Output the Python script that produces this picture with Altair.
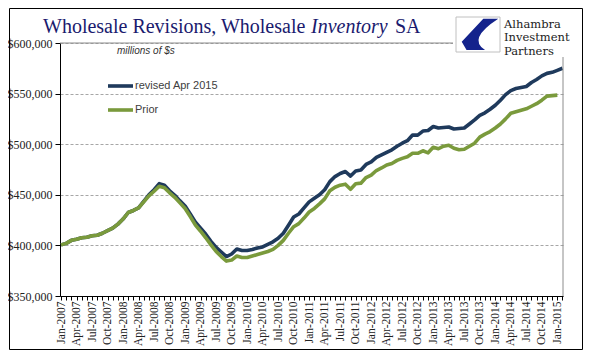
import json
import altair as alt
import pandas as pd

# ---- data (thousands of $) ----
months = [d.strftime("%b-%Y") for d in pd.date_range("2007-01-01", "2015-02-01", freq="MS")]

revised = [
    400.5, 402, 405, 406, 407.5, 408, 409.5, 410, 412, 414.5,
    417, 421, 426, 432.5, 434.5, 437, 443.5, 450, 455, 461,
    459.5, 454, 449.5, 444, 439, 431, 423, 417, 411, 404,
    398, 393.5, 389, 391.5, 396.5, 395, 395, 396, 397.5, 398.5,
    401, 403.5, 407, 412, 420, 428, 431, 437, 443, 446.5,
    450, 455, 463, 468, 471, 473, 468.5, 473.5, 474.5, 480,
    482.5, 487, 489.5, 492, 494.5, 498, 501, 503.5, 509, 509,
    513, 513.5, 517.5, 516, 516.5, 517, 515, 515.5, 516, 520,
    524, 528.5, 531, 534.5, 538.5, 543.5, 549, 553, 555, 556,
    557, 561, 564, 567.5, 570, 571, 573, 575,
]
prior = [
    400.5, 402, 405, 406, 407.5, 408, 409.5, 410, 412, 414.5,
    417, 421, 426, 432.5, 434.5, 437, 443, 449, 453.5, 458.5,
    457, 452, 447.5, 442, 436.5, 428.5, 420, 414, 407.5, 400.5,
    394, 389, 384.5, 385.5, 389.5, 388, 388, 389.5, 391, 392.5,
    394, 396, 400, 405, 412, 418.5, 421.5, 427, 433, 436.5,
    441, 446, 454, 457.5, 459.5, 460.5, 455.5, 461, 461.5, 467,
    469.5, 474, 476.5, 479.5, 481, 484, 486, 487.5, 491, 491,
    493.5, 491.5, 497, 495.5, 498, 499, 496, 494.5, 495, 498,
    501, 507, 510, 512.5, 516, 520, 525, 530.5, 532, 533.5,
    535, 537.5, 540, 543.5, 547.5, 548, 548.5,
]
series_names = ["revised Apr 2015", "Prior"]
series_colors = ["#1f3a5c", "#7a9a3c"]
tick_labels = [m if i % 3 == 0 else "" for i, m in enumerate(months)]
y_ticks = [350000, 400000, 450000, 500000, 550000, 600000]

df_rev = pd.DataFrame({"i": range(len(revised)), "v": [v * 1000 for v in revised],
                       "month": months[:len(revised)]})
df_pri = pd.DataFrame({"i": range(len(prior)), "v": [v * 1000 for v in prior],
                       "month": months[:len(prior)]})
one = pd.DataFrame({"k": [1]})

W, H = 503, 253
SERIF = "Liberation Serif"

x_enc = alt.X(
    "i:Q",
    title=None,
    scale=alt.Scale(domain=[-0.2, 97.1], nice=False, zero=False),
    axis=alt.Axis(
        values=list(range(len(months))),
        labelExpr=json.dumps(tick_labels) + "[datum.value]",
        labelAngle=270,
        labelFont=SERIF,
        labelFontSize=11.5,
        labelColor="#222222",
        labelPadding=1,
        labelOverlap=False,
        labelBound=False,
        labelFlush=False,
        tickSize=4,
        tickColor="#000000",
        domainColor="#000000",
        grid=False,
    ),
)
y_enc = alt.Y(
    "v:Q",
    title=None,
    scale=alt.Scale(domain=[350000, 600000], nice=False, zero=False),
    axis=alt.Axis(
        values=y_ticks,
        format="$,.0f",
        labelFont=SERIF,
        labelFontSize=12,
        labelColor="#222222",
        labelPadding=3,
        tickSize=5,
        tickColor="#000000",
        domainColor="#000000",
        grid=True,
        gridDash=[3, 2],
        gridColor="#a6a6a6",
    ),
)

line_rev = alt.Chart(df_rev).mark_line(color=series_colors[0], strokeWidth=3.6, strokeJoin="round").encode(
    x=x_enc, y=y_enc)
line_pri = alt.Chart(df_pri).mark_line(color=series_colors[1], strokeWidth=3.6, strokeJoin="round").encode(
    x=x_enc, y=y_enc)

# plot borders (top + right, gray)
top_border = alt.Chart(one).mark_rule(color="#8c8c8c", strokeWidth=1).encode(
    x=alt.value(0), x2=alt.value(W), y=alt.value(0))
right_border = alt.Chart(one).mark_rule(color="#8c8c8c", strokeWidth=1).encode(
    x=alt.value(W), y=alt.value(0), y2=alt.value(H))

# outer frame
frame = alt.Chart(one).mark_rect(fillOpacity=0, stroke="#000000", strokeWidth=1).encode(
    x=alt.value(-50.5), x2=alt.value(522.5), y=alt.value(-34.5), y2=alt.value(306.5))

# title pieces
TITLE_C = "#1a1a6e"
t1 = alt.Chart(one).mark_text(text="Wholesale Revisions, Wholesale", align="left", baseline="alphabetic",
                              font=SERIF, fontSize=20, color=TITLE_C).encode(
    x=alt.value(-17), y=alt.value(-10))
t2 = alt.Chart(one).mark_text(text="Inventory", align="left", baseline="alphabetic",
                              font=SERIF, fontSize=20, fontStyle="italic", color=TITLE_C).encode(
    x=alt.value(251), y=alt.value(-10))
t3 = alt.Chart(one).mark_text(text="SA", align="left", baseline="alphabetic",
                              font=SERIF, fontSize=20, color=TITLE_C).encode(
    x=alt.value(335), y=alt.value(-10))

units = alt.Chart(one).mark_text(text="millions of $s", align="left", baseline="middle",
                                 font="Liberation Sans", fontSize=10, fontStyle="italic",
                                 color="#333333").encode(x=alt.value(57), y=alt.value(8))

# logo
logo_bg = alt.Chart(one).mark_rect(fill="#ffffff").encode(
    x=alt.value(393), x2=alt.value(518), y=alt.value(-33), y2=alt.value(14))
logo_box = alt.Chart(one).mark_rect(fill="#ffffff", stroke="#c0c0c0", strokeWidth=1).encode(
    x=alt.value(396), x2=alt.value(440), y=alt.value(-26), y2=alt.value(9))
swoosh_path = "M 0.92 -0.72 L 0.24 -0.72 L -0.74 0.33 L -0.52 0.70 L 0.32 0.70 Q -0.5 0.2 0.92 -0.72 Z"
logo_mark = alt.Chart(one).mark_point(shape=swoosh_path, filled=True, fill="#14238c", opacity=1,
                                      strokeWidth=0, size=1936).encode(
    x=alt.value(418), y=alt.value(-8.5))
logo_text = alt.Chart(one).mark_text(text=["Alhambra", "Investment", "Partners"], align="left",
                                     baseline="alphabetic", font="DejaVu Serif", fontSize=11.5,
                                     lineHeight=13.5, color="#222222").encode(
    x=alt.value(444), y=alt.value(-15.5))

# legend
leg_rev = alt.Chart(one).mark_rule(color=series_colors[0], strokeWidth=3.6).encode(
    x=alt.value(48), x2=alt.value(73), y=alt.value(43))
leg_pri = alt.Chart(one).mark_rule(color=series_colors[1], strokeWidth=3.6).encode(
    x=alt.value(48), x2=alt.value(73), y=alt.value(67))
leg_rev_t = alt.Chart(one).mark_text(text=series_names[0], align="left", baseline="middle",
                                     font="Liberation Sans", fontSize=11, color="#404040").encode(
    x=alt.value(75), y=alt.value(43))
leg_pri_t = alt.Chart(one).mark_text(text=series_names[1], align="left", baseline="middle",
                                     font="Liberation Sans", fontSize=11, color="#404040").encode(
    x=alt.value(75), y=alt.value(67))

chart = alt.layer(
    line_rev, line_pri, top_border, right_border, frame,
    t1, t2, t3, units,
    logo_bg, logo_box, logo_mark, logo_text,
    leg_rev, leg_pri, leg_rev_t, leg_pri_t,
).properties(
    width=W, height=H,
    autosize=alt.AutoSizeParams(type="none"),
    padding={"left": 52, "top": 35, "right": 25, "bottom": 62},
    background="#ffffff",
).configure_view(strokeWidth=0).configure_axisX(labelOverlap=False)

chart.save("out.html", embed_options={"renderer": "svg", "actions": False})
